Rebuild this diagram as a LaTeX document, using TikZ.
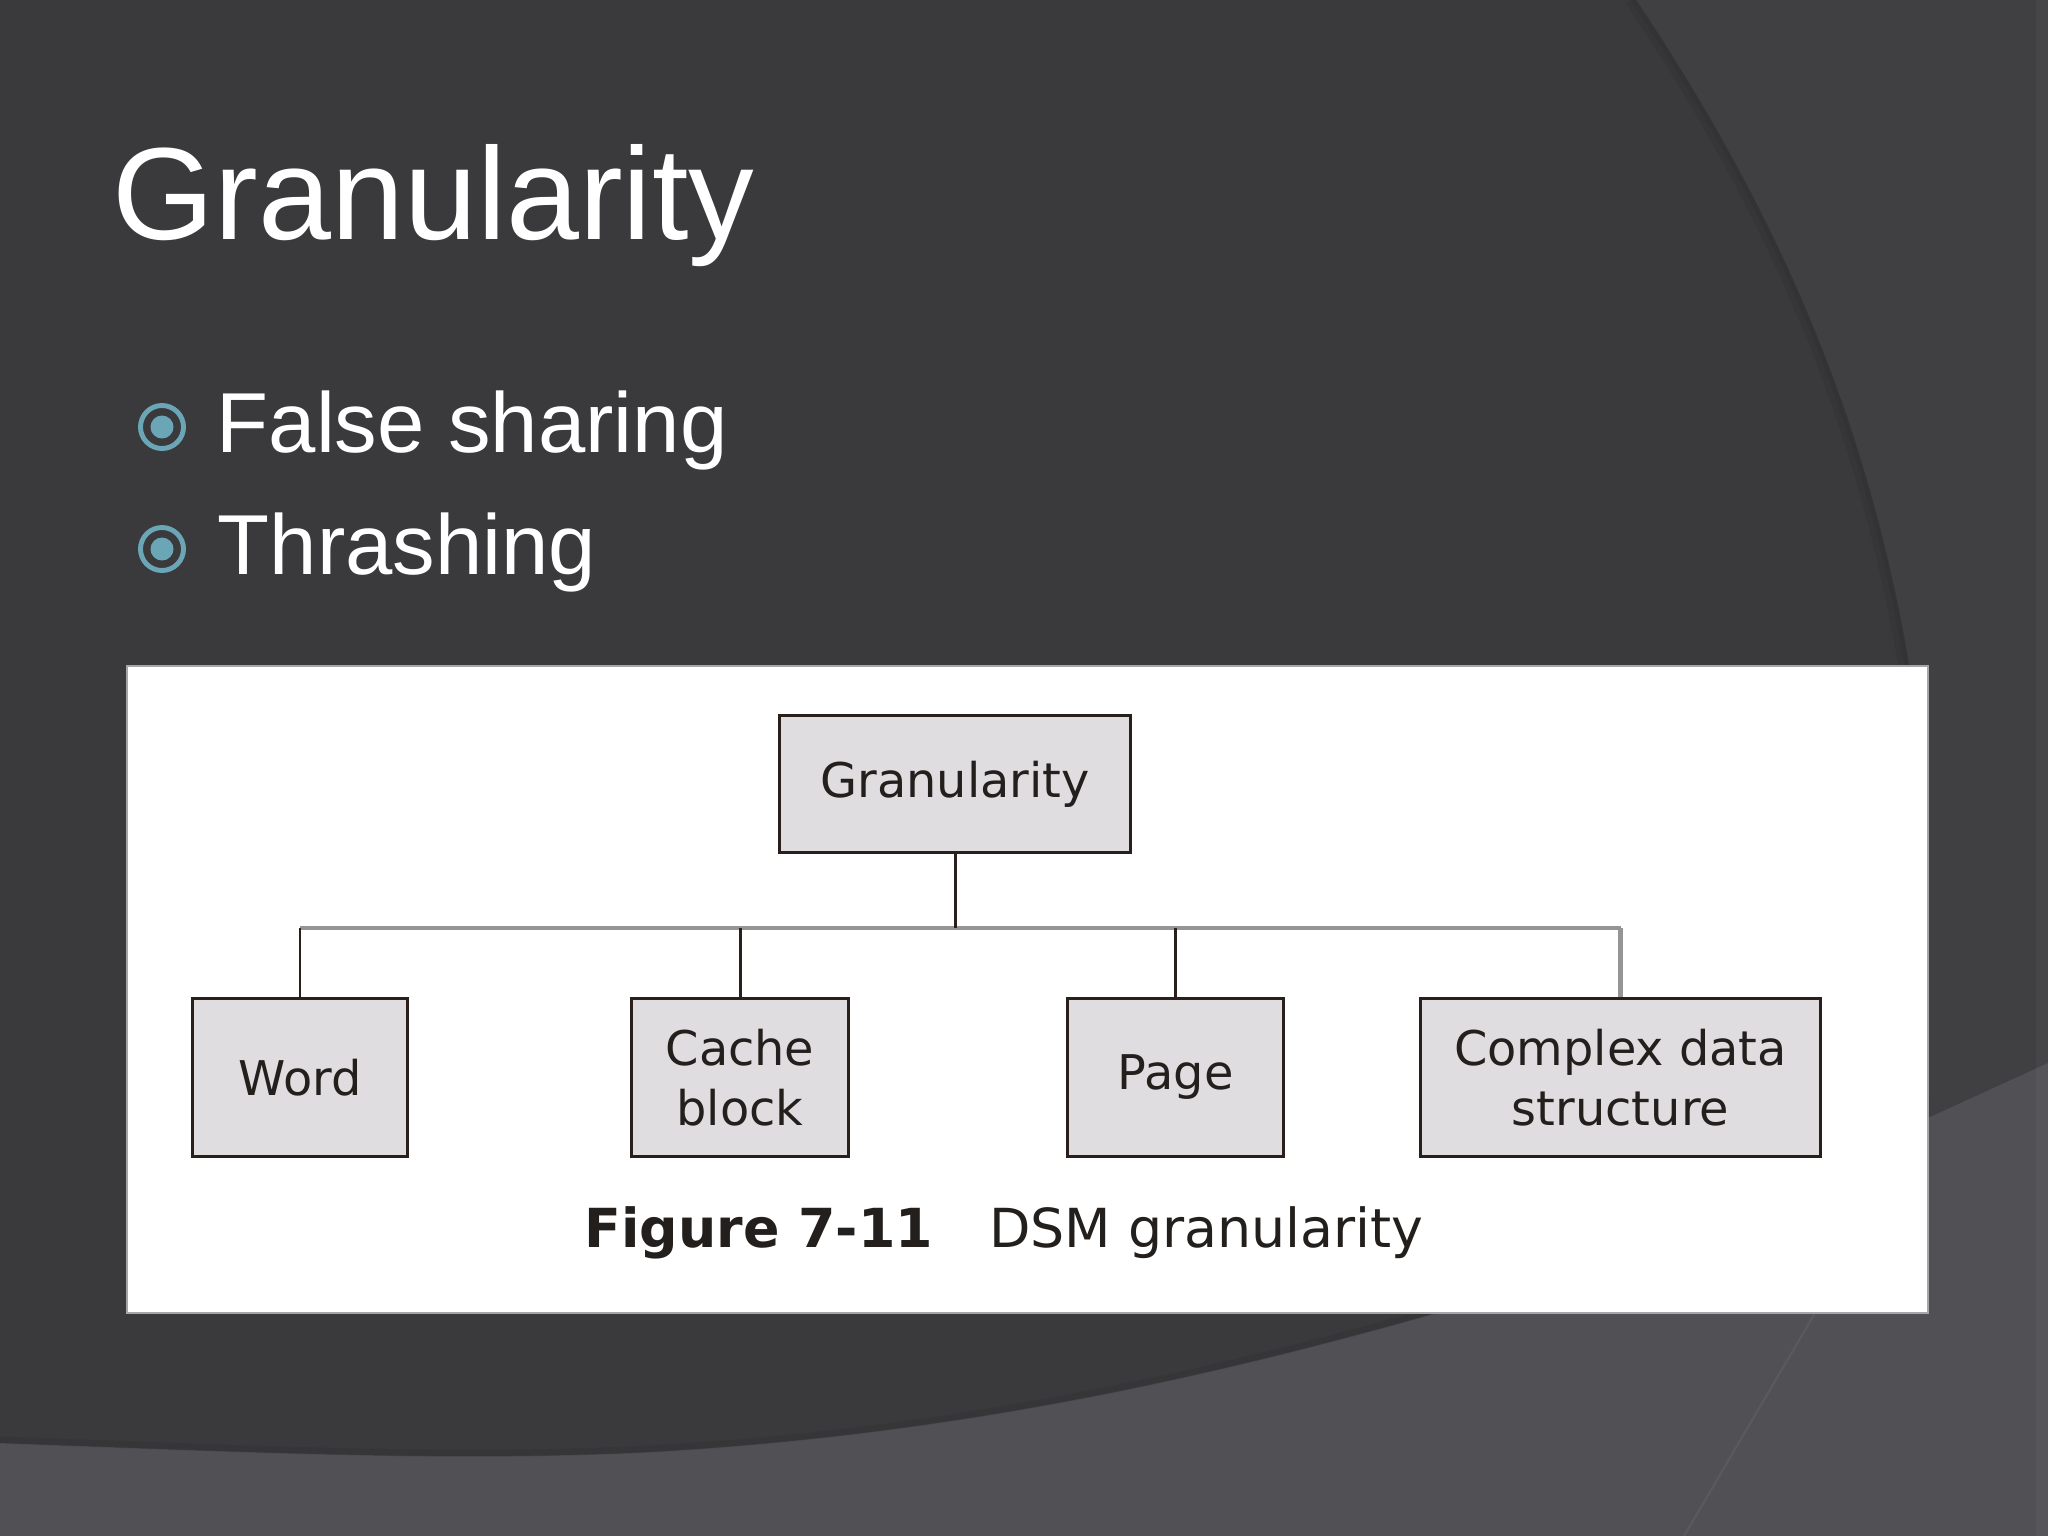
\documentclass[tikz,border=0pt]{standalone}
\usepackage{fontspec}
\setmainfont{Liberation Sans}
\newfontfamily\dvfont{DejaVu Sans}
\definecolor{bgdark}{HTML}{3A393C}
\definecolor{bgup}{HTML}{403F42}
\definecolor{bglow}{HTML}{515054}
\definecolor{shadow}{HTML}{2F2E31}
\definecolor{bullet}{HTML}{6AA6B6}
\definecolor{boxline}{HTML}{2A201B}
\definecolor{boxfill}{HTML}{DFDDE0}
\definecolor{boxtext}{HTML}{231F1C}
\definecolor{busgray}{HTML}{959595}
\begin{document}
\begin{tikzpicture}[x=0.01cm,y=-0.01cm,
  gbox/.style={draw=boxline, fill=boxfill, line width=0.85pt, inner sep=0pt,
    align=center, text=boxtext, font=\dvfont\fontsize{13.6}{17}\selectfont},
  conn/.style={draw=boxline, line width=0.85pt},
  busline/.style={draw=busgray, line width=1.3pt},
  slidetext/.style={anchor=base west, inner sep=0pt, text=white},
  ring/.style={draw=bullet, line width=1.4pt},
  dot/.style={fill=bullet}]
\useasboundingbox (0,0) rectangle (2048,1536);
% background
\fill[bgdark] (0,0) rectangle (2048,1536);
\fill[bgup] (1636,0) .. controls (1780,215) and (1875,430) .. (1915,700)
  -- (1930,1117) -- (2048,1063) -- (2048,0) -- cycle;
\draw[shadow, line width=3pt, opacity=0.35] (1630,0) .. controls (1774,215) and (1869,430) .. (1909,700);
\draw[shadow, line width=1.2pt, opacity=0.35] (1633,0) .. controls (1777,215) and (1872,430) .. (1912,700);
\fill[bglow] (0,1443) .. controls (250,1452) and (450,1462) .. (650,1452)
  .. controls (950,1435) and (1200,1380) .. (1436,1313)
  -- (1930,1117) -- (2048,1063) -- (2048,1536) -- (0,1536) -- cycle;
\draw[shadow, line width=2pt, opacity=0.3] (0,1440) .. controls (250,1449) and (450,1459) .. (650,1449)
  .. controls (950,1432) and (1200,1377) .. (1436,1310);
\draw[bglow!85!white, line width=0.6pt, opacity=0.35] (1815,1313) -- (1684,1536);
\fill[white, opacity=0.03] (2036,0) rectangle (2048,1536);
% title and bullets
\node[slidetext, font=\fontsize{37.3}{40}\selectfont] (title) at (112,239) {Granularity};
\draw[ring] (162,427) circle[radius=0.215cm];
\fill[dot] (162,427) circle[radius=0.115cm];
\draw[ring] (162,549) circle[radius=0.215cm];
\fill[dot] (162,549) circle[radius=0.115cm];
\node[slidetext, font=\fontsize{24.2}{28}\selectfont] (b1) at (216,452) {False sharing};
\node[slidetext, font=\fontsize{24.2}{28}\selectfont] (b2) at (217,574) {Thrashing};
% figure panel
\fill[white] (127,666) rectangle (1928,1313);
\draw[gray!70, line width=0.3pt] (127,666) rectangle (1928,1313);
\node[gbox, minimum width=3.5cm, minimum height=1.36cm] (G) at (955,784) {Granularity};
\node[gbox, minimum width=2.14cm, minimum height=1.57cm] (W) at (300,1077.5) {Word};
\node[gbox, minimum width=2.16cm, minimum height=1.57cm] (C) at (740,1077.5) {Cache\\block};
\node[gbox, minimum width=2.15cm, minimum height=1.57cm] (P) at (1175.5,1077.5) {Page};
\node[gbox, minimum width=3.99cm, minimum height=1.57cm] (X) at (1620.5,1077.5) {Complex data\\structure};
\coordinate (bus) at (0,928);
\draw[busline] (W.north |- bus) -- (X.north |- bus);
\draw[conn] (G.south) -- (G.south |- bus);
\draw[conn] (W.north) -- (W.north |- bus);
\draw[conn] (C.north) -- (C.north |- bus);
\draw[conn] (P.north) -- (P.north |- bus);
\draw[busline] (X.north) -- (X.north |- bus);
\node[anchor=base west, inner sep=0pt, text=boxtext, font=\dvfont\fontsize{15.3}{18}\selectfont] (cap) at (584,1247)
  {\textbf{Figure 7-11}\hspace*{0.56cm}DSM granularity};
\end{tikzpicture}
\end{document}
